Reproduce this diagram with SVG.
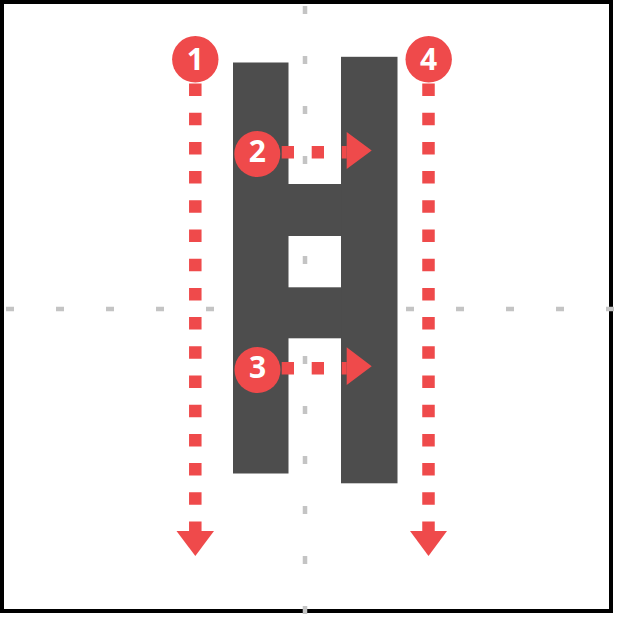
<svg xmlns="http://www.w3.org/2000/svg" width="617" height="617" viewBox="0 0 617 617">
  <style>
    .grid { stroke: #c4c4c4; stroke-width: 4.5; stroke-dasharray: 8 42; fill: none; }
    .glyph { fill: #4d4d4d; }
    .dot { stroke: #ef4a4b; stroke-width: 12.5; fill: none; }
    .head { fill: #ef4a4b; }
    .badge { fill: #ef4a4b; }
    .num { fill: #ffffff; font-family: "Open Sans", "DejaVu Sans", sans-serif; font-weight: bold; font-size: 30px; text-anchor: middle; }
  </style>
  <rect x="2" y="2" width="609" height="609" fill="#ffffff" stroke="#000000" stroke-width="4"/>
  <g id="guides">
    <line class="grid" x1="305" y1="6" x2="305" y2="614"/>
    <line class="grid" x1="6" y1="309" x2="614" y2="309"/>
  </g>
  <g id="letter-h">
    <rect class="glyph" x="233" y="62.5" width="55.5" height="411"/>
    <rect class="glyph" x="341" y="56.8" width="56.5" height="426.5"/>
    <rect class="glyph" x="288" y="184" width="53.5" height="52"/>
    <rect class="glyph" x="288" y="287.3" width="53.5" height="51"/>
  </g>
  <g id="connectors">
    <line class="dot" x1="195.3" y1="83.5" x2="195.3" y2="531" stroke-dasharray="12.5 16.7"/>
    <polygon class="head" points="176.5,531 214,531 195.3,556"/>
    <line class="dot" x1="428.5" y1="83.5" x2="428.5" y2="531" stroke-dasharray="12.5 16.7"/>
    <polygon class="head" points="410,531 447,531 428.5,556"/>
    <line class="dot" x1="281.7" y1="152.2" x2="346.7" y2="152.2" stroke-dasharray="12.3 17.7"/>
    <polygon class="head" points="346.7,132 346.7,169 371.7,150.5"/>
    <line class="dot" x1="281.7" y1="368.3" x2="346.7" y2="368.3" stroke-dasharray="12.3 17.7"/>
    <polygon class="head" points="346.7,347.3 346.7,385 371.7,366.2"/>
  </g>
  <g id="step-1">
    <circle class="badge" cx="195.3" cy="59.3" r="23.2"/>
    <text class="num" x="195.3" y="70">1</text>
  </g>
  <g id="step-2">
    <circle class="badge" cx="257.3" cy="154" r="23"/>
    <text class="num" x="257.3" y="162.3">2</text>
  </g>
  <g id="step-3">
    <circle class="badge" cx="257.5" cy="370" r="23"/>
    <text class="num" x="257.5" y="378.3">3</text>
  </g>
  <g id="step-4">
    <circle class="badge" cx="428.7" cy="59.3" r="23.2"/>
    <text class="num" x="428.7" y="70">4</text>
  </g>
</svg>
